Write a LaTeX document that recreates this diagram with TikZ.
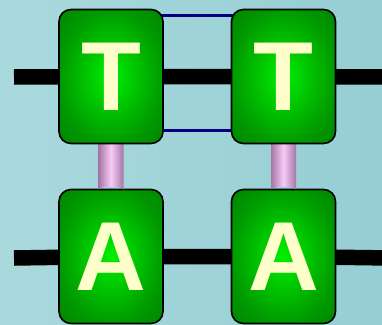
\documentclass[tikz,border=0pt]{standalone}
\usepackage{fontspec}
\setmainfont{Liberation Sans}
\usetikzlibrary{calc}
\pgfdeclarelayer{back}
\pgfdeclarelayer{lower}
\pgfdeclarelayer{rods}
\pgfsetlayers{back,lower,rods,main}
\definecolor{bgleft}{HTML}{AAD9DD}
\definecolor{bgright}{HTML}{95CED3}
\definecolor{lettercol}{HTML}{FFFFCC}
\definecolor{rungcol}{HTML}{000080}
\definecolor{roddark}{HTML}{A675A6}
\definecolor{rodlight}{HTML}{F6CBF6}
% glowing green fill of a base
\pgfdeclareradialshading{baseglow}{\pgfpoint{0bp}{0bp}}{%
  color(0bp)=(green!94!black);
  color(10bp)=(green!80!black);
  color(25bp)=(green!60!black);
  color(36bp)=(green!52!black);
  color(50bp)=(green!50!black)}
\tikzset{
  base/.style={draw=black, line width=1.6pt, rounded corners=12pt,
    shading=baseglow,
    minimum width=104pt, minimum height=134pt, inner sep=0pt,
    text=lettercol, font=\fontsize{98}{98}\selectfont\bfseries},
  backbone/.style={line width=15.5pt, black},
  rung/.style={line width=3.5pt, rungcol},
  rod/.style={left color=roddark, right color=roddark, middle color=rodlight}
}
\begin{document}
\begin{tikzpicture}[x=1pt,y=-1pt]
\useasboundingbox (0,0) rectangle (382,324);
\begin{pgfonlayer}{back}
  \shade[left color=bgleft, right color=bgright] (0,0) rectangle (382,324);
\end{pgfonlayer}

% bases of the two strands
\begin{pgfonlayer}{lower}
  \node[base] (a1) at (111,256.5) {A};
  \node[base] (a2) at (283.5,256.5) {A};
\end{pgfonlayer}
\node[base] (t1) at (111,76.5) {T};
\node[base] (t2) at (283.5,76.5) {T};

% backbones and the links between the T bases
\coordinate (topL) at (14,77);
\coordinate (topR) at (390,77);
\coordinate (botL) at (14,258);
\coordinate (botR) at (390,258);
\begin{pgfonlayer}{back}
  \draw[backbone] (topL) -- (t1.center) -- (t2.center) -- (topR);
  \draw[backbone] (botL) -- (a1.center) -- (a2.center) -- (botR);
  \draw[rung] ($(t1.north east)+(-10,7)$) -- ($(t2.north west)+(10,7)$);
  \draw[rung] ($(t1.south east)+(-10,-14)$) -- ($(t2.south west)+(10,-14)$);
\end{pgfonlayer}

% pairing rods between T and A
\begin{pgfonlayer}{rods}
  \foreach \up/\dn in {t1/a1, t2/a2}{
    \shade[rod] ($(\up.south)+(-12.5,-4)$) -- ($(\dn.north)+(-12.5,1)$)
      arc[start angle=180, end angle=360, x radius=12.5, y radius=3]
      -- ($(\up.south)+(12.5,-4)$) -- cycle;
  }
\end{pgfonlayer}
\end{tikzpicture}
\end{document}
